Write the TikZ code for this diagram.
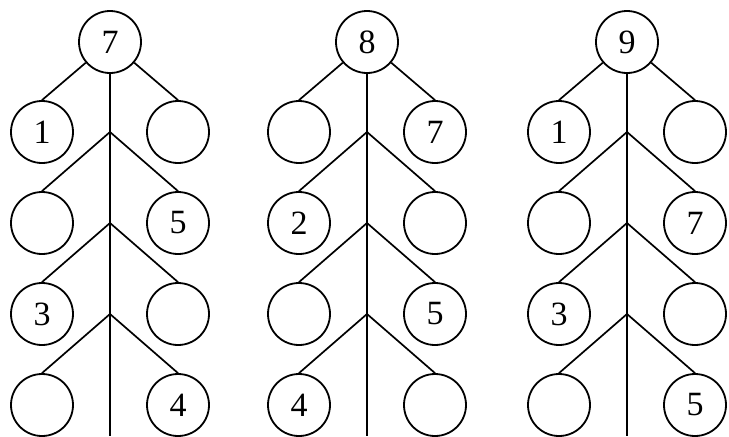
\documentclass[tikz,border=0pt]{standalone}
\usepackage{fontspec}
\setmainfont{Liberation Serif}
\begin{document}
\begin{tikzpicture}[
  x=0.5pt, y=-0.5pt,
  ring/.style={
    draw, circle, minimum size=31pt, inner sep=0pt,
    line width=0.9pt, font=\fontsize{17}{19}\selectfont
  },
  stem/.style={line width=0.85pt},
]
\useasboundingbox (0,0) rectangle (729,436);

\node[ring] (a) at (110,42) {7};
\node[ring] (al1) at (42,132) {1};
\node[ring] (ar1) at (178,132) {};
\node[ring] (al2) at (42,223) {};
\node[ring] (ar2) at (178,223) {5};
\node[ring] (al3) at (42,314) {3};
\node[ring] (ar3) at (178,314) {};
\node[ring] (al4) at (42,405) {};
\node[ring] (ar4) at (178,405) {4};

\node[ring] (b) at (367,42) {8};
\node[ring] (bl1) at (299,132) {};
\node[ring] (br1) at (435,132) {7};
\node[ring] (bl2) at (299,223) {2};
\node[ring] (br2) at (435,223) {};
\node[ring] (bl3) at (299,314) {};
\node[ring] (br3) at (435,314) {5};
\node[ring] (bl4) at (299,405) {4};
\node[ring] (br4) at (435,405) {};

\node[ring] (c) at (627,42) {9};
\node[ring] (cl1) at (559,132) {1};
\node[ring] (cr1) at (695,132) {};
\node[ring] (cl2) at (559,223) {};
\node[ring] (cr2) at (695,223) {7};
\node[ring] (cl3) at (559,314) {3};
\node[ring] (cr3) at (695,314) {};
\node[ring] (cl4) at (559,405) {};
\node[ring] (cr4) at (695,405) {5};

\coordinate (ab1) at (al1 -| a);
\coordinate (ab2) at (al2 -| a);
\coordinate (ab3) at (al3 -| a);
\coordinate (aend) at (110,436);
\coordinate (bb1) at (bl1 -| b);
\coordinate (bb2) at (bl2 -| b);
\coordinate (bb3) at (bl3 -| b);
\coordinate (bend) at (367,436);
\coordinate (cb1) at (cl1 -| c);
\coordinate (cb2) at (cl2 -| c);
\coordinate (cb3) at (cl3 -| c);
\coordinate (cend) at (627,436);

\draw[stem] (al1.north) -- (a) -- (ar1.north);
\draw[stem] (a) -- (aend);
\draw[stem] (al2.north) -- (ab1) -- (ar2.north);
\draw[stem] (al3.north) -- (ab2) -- (ar3.north);
\draw[stem] (al4.north) -- (ab3) -- (ar4.north);

\draw[stem] (bl1.north) -- (b) -- (br1.north);
\draw[stem] (b) -- (bend);
\draw[stem] (bl2.north) -- (bb1) -- (br2.north);
\draw[stem] (bl3.north) -- (bb2) -- (br3.north);
\draw[stem] (bl4.north) -- (bb3) -- (br4.north);

\draw[stem] (cl1.north) -- (c) -- (cr1.north);
\draw[stem] (c) -- (cend);
\draw[stem] (cl2.north) -- (cb1) -- (cr2.north);
\draw[stem] (cl3.north) -- (cb2) -- (cr3.north);
\draw[stem] (cl4.north) -- (cb3) -- (cr4.north);

\end{tikzpicture}
\end{document}
